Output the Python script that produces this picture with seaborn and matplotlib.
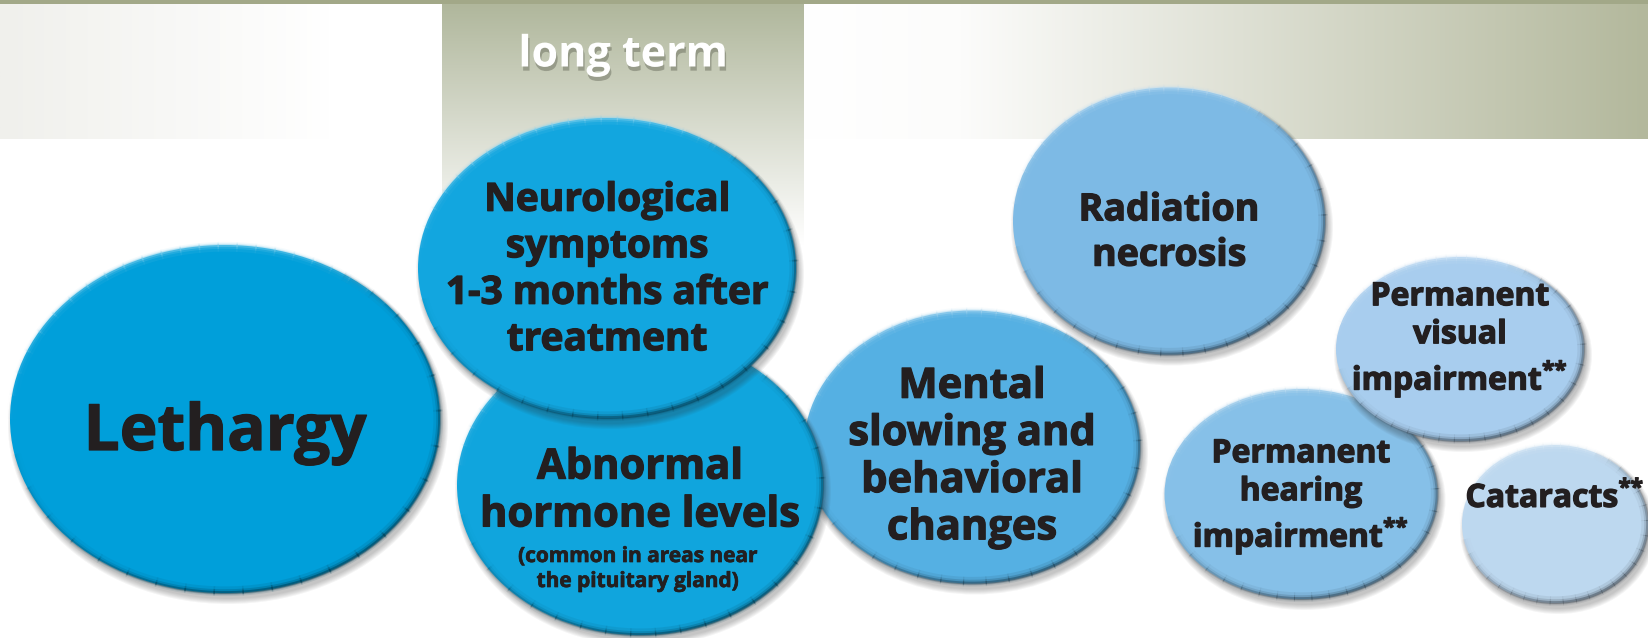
"""
plot.py
Long term side effects bubble chart -> out.png
"""
import numpy as np
import matplotlib.pyplot as plt
import matplotlib.patheffects as pe
from matplotlib.patches import Ellipse, Arc, Rectangle
from matplotlib.colors import to_rgb
import seaborn as sns

sns.set_theme(style="white")
plt.rcParams["font.family"] = ["Open Sans", "DejaVu Sans"]
plt.rcParams["mathtext.default"] = "regular"

TEXT = "#231f20"
HEADER = "long term"
STAR = "$^{{*}{*}}$"

# ── bubbles (drawn in this order) ───────────────────────────
labels = [
    "Lethargy",
    "Radiation\nnecrosis",
    "Mental\nslowing and\nbehavioral\nchanges",
    "Abnormal\nhormone levels",
    "Neurological\nsymptoms\n1-3 months after\ntreatment",
    "Permanent\nhearing\nimpairment" + STAR,
    "Permanent\nvisual\nimpairment" + STAR,
    "Cataracts" + STAR,
]
notes = ["", "", "", "(common in areas near\nthe pituitary gland)", "", "", "", ""]
colors = ["#009fda", "#7dbae5", "#55b0e3", "#10a5dd", "#12a6df",
          "#86c0e8", "#a8cdee", "#bdd8ef"]

# layout in pixel space (x right, y down)
cx = [225, 1169, 972, 640, 607, 1301, 1460, 1555]
cy = [419, 221, 447, 485, 268, 494, 349, 524]
bw = [430, 312, 336, 366, 378, 273, 248, 186]
bh = [348, 267, 273, 300, 300, 210, 184, 158]
ty = [450, 233, 458, 492, 270, 497, 340, 498]
fs = [46, 27, 30, 30, 28, 23, 23, 23]
ls = [1.0, 1.25, 1.2, 1.22, 1.25, 1.2, 1.2, 1.0]

W, H = 1648, 638
fig = plt.figure(figsize=(W / 100, H / 100), dpi=100)
ax = fig.add_axes([0, 0, 1, 1])
ax.set_xlim(0, W)
ax.set_ylim(H, 0)
ax.axis("off")

heavy = [pe.withStroke(linewidth=0.9, foreground=TEXT)]


def hgrad(x0, x1, y0, y1, c0, c1, z=0):
    g = np.linspace(0, 1, 256)[None, :, None]
    img = (1 - g) * np.array(to_rgb(c0)) + g * np.array(to_rgb(c1))
    ax.imshow(img, extent=(x0, x1, y1, y0), aspect="auto", zorder=z, interpolation="bilinear")


def vgrad(x0, x1, y0, y1, c0, c1, z=0):
    g = np.linspace(0, 1, 256)[:, None, None]
    img = (1 - g) * np.array(to_rgb(c0)) + g * np.array(to_rgb(c1))
    ax.imshow(img, extent=(x0, x1, y1, y0), aspect="auto", zorder=z, interpolation="bilinear")


def rim(x, y, w, h, t0, t1, col, amax, z):
    # tapered arc: strongest in the middle, fading at both ends
    n = 24
    edges = np.linspace(t0, t1, n + 1)
    for a0, a1 in zip(edges[:-1], edges[1:]):
        wgt = np.sin(np.pi * ((a0 + a1) / 2 - t0) / (t1 - t0))
        for lw, a in [(7, 0.12), (4, 0.25), (2, 0.55)]:
            ax.add_patch(Arc((x, y), w - lw / 2, h - lw / 2, theta1=a0, theta2=a1 + 0.5,
                             color=col, lw=lw, alpha=a * amax * wgt, zorder=z))


# ── header bands ────────────────────────────────────────────
ax.add_patch(Rectangle((0, 0), W, 4, color="#a2a888", zorder=2, lw=0))
hgrad(0, 330, 4, 139, "#f0f0ec", "#ffffff", z=1)
hgrad(804, 960, 4, 139, "#ffffff", "#fcfcfb", z=1)
hgrad(960, W, 4, 139, "#fcfcfb", "#b3b89c", z=1)
vgrad(442, 804, 4, 245, "#b0b79c", "#ffffff", z=1)
ax.text(623, 55, HEADER, color="white", fontsize=31, fontweight="bold",
        family=["Liberation Sans Narrow", "Open Sans"], ha="center", va="center",
        zorder=3,
        path_effects=[pe.withSimplePatchShadow(offset=(1, -3), shadow_rgbFace="#55584a", alpha=0.4)])

# ── bubbles ─────────────────────────────────────────────────
for i, lab in enumerate(labels):
    z = 10 + i * 2
    base = np.array(to_rgb(colors[i]))
    # soft drop shadow
    for k in range(6):
        ax.add_patch(Ellipse((cx[i] + 3, cy[i] + 6), bw[i] + 10 - 2 * k, bh[i] + 10 - 2 * k,
                             color="#303030", alpha=0.05, lw=0, zorder=z))
    ax.add_patch(Ellipse((cx[i], cy[i]), bw[i], bh[i], color=colors[i], lw=0, zorder=z))
    rim(cx[i], cy[i], bw[i], bh[i], -60, 170, base * 0.4, 1.0, z)
    rim(cx[i], cy[i], bw[i], bh[i], 180, 330, np.clip(base + (1 - base) * 0.5, 0, 1), 0.8, z)
    va = "baseline" if i == 0 else "center"
    ax.text(cx[i], ty[i], lab, ha="center", va=va, multialignment="center",
            fontsize=fs[i], fontweight="bold", color=TEXT, linespacing=ls[i], zorder=z + 1,
            path_effects=heavy)
    if notes[i]:
        ax.text(cx[i] - 2, 569, notes[i], ha="center", va="center", multialignment="center",
                fontsize=15, fontweight="bold", color=TEXT, linespacing=1.25, zorder=z + 1,
                path_effects=[pe.withStroke(linewidth=0.5, foreground=TEXT)])

fig.savefig("out.png", dpi=100, facecolor="white")
plt.close(fig)
